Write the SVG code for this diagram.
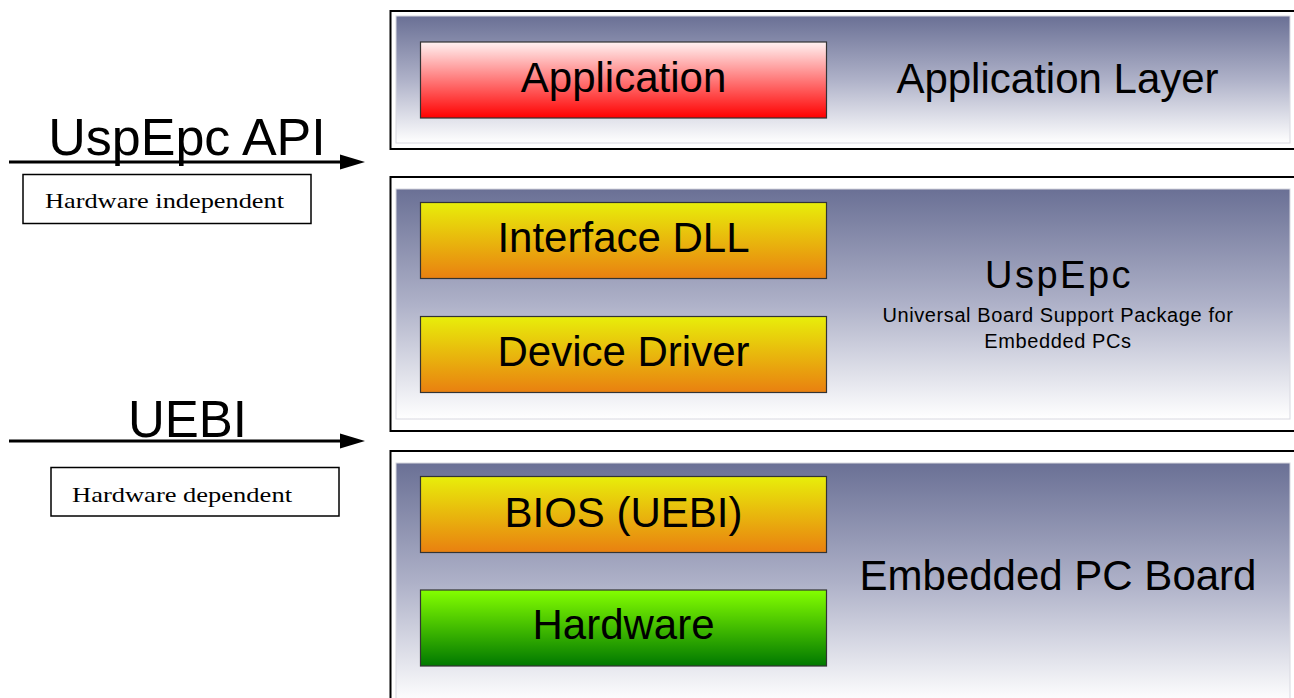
<svg xmlns="http://www.w3.org/2000/svg" width="1294" height="698" viewBox="0 0 1294 698">
<defs>
<linearGradient id="gLayer" x1="0" y1="0" x2="0" y2="1">
<stop offset="0" stop-color="#6a7095"/>
<stop offset="0.5" stop-color="#aeb1c8"/>
<stop offset="1" stop-color="#ffffff"/>
</linearGradient>
<linearGradient id="gRed" x1="0" y1="0" x2="0" y2="1">
<stop offset="0" stop-color="#fff2f2"/>
<stop offset="1" stop-color="#ff0000"/>
</linearGradient>
<linearGradient id="gOrange" x1="0" y1="0" x2="0" y2="1">
<stop offset="0" stop-color="#e8ee0a"/>
<stop offset="1" stop-color="#e98010"/>
</linearGradient>
<linearGradient id="gGreen" x1="0" y1="0" x2="0" y2="1">
<stop offset="0" stop-color="#84ff00"/>
<stop offset="1" stop-color="#007800"/>
</linearGradient>
<marker id="arr" markerWidth="8" markerHeight="6" refX="8" refY="3" orient="auto" markerUnits="strokeWidth">
<path d="M0,0 L8,3 L0,6 Z" fill="#000"/>
</marker>
</defs>
<style>
.frame{fill:#fff;stroke:#000;stroke-width:2}
.inner{fill:url(#gLayer);stroke:#d8d8e0;stroke-width:1}
.box{stroke:#333;stroke-width:1.2}
.lbl{font-family:"Liberation Sans",Arial,sans-serif;font-size:42px;fill:#000;text-anchor:middle}
.big{font-family:"Liberation Sans",Arial,sans-serif;fill:#000;text-anchor:middle}
.ser{font-family:"Liberation Serif","Times New Roman",serif;font-size:21px;fill:#000}
.note{fill:#fff;stroke:#000;stroke-width:1.5}
.conn{stroke:#000;stroke-width:3;fill:none}
</style>

<g id="layer-application">
<rect class="frame" x="390.5" y="11" width="920" height="138"/>
<rect class="inner" x="396" y="16" width="894" height="127"/>
<text class="lbl" x="1057.5" y="93">Application Layer</text>
</g>
<g id="node-application">
<rect class="box" x="420.5" y="42" width="406" height="76" fill="url(#gRed)"/>
<text class="lbl" x="623.5" y="92">Application</text>
</g>

<g id="layer-uspepc">
<rect class="frame" x="390.5" y="177" width="920" height="254"/>
<rect class="inner" x="396" y="189" width="894" height="230"/>
<text class="big" x="1059" y="288" font-size="38" letter-spacing="2.5">UspEpc</text>
<text class="big" x="1058" y="322" font-size="20" letter-spacing="0.6">Universal Board Support Package for</text>
<text class="big" x="1058" y="348" font-size="20" letter-spacing="0.6">Embedded PCs</text>
</g>
<g id="node-interface-dll">
<rect class="box" x="420.5" y="202.5" width="406" height="76" fill="url(#gOrange)"/>
<text class="lbl" x="623.5" y="252">Interface DLL</text>
</g>
<g id="node-device-driver">
<rect class="box" x="420.5" y="316.5" width="406" height="76" fill="url(#gOrange)"/>
<text class="lbl" x="623.5" y="366">Device Driver</text>
</g>

<g id="layer-board">
<rect class="frame" x="390.5" y="451" width="920" height="260"/>
<rect class="inner" x="396" y="463" width="894" height="240"/>
<text class="lbl" x="1058" y="590">Embedded PC Board</text>
</g>
<g id="node-bios">
<rect class="box" x="420.5" y="476.5" width="406" height="76" fill="url(#gOrange)"/>
<text class="lbl" x="623.5" y="527">BIOS (UEBI)</text>
</g>
<g id="node-hardware">
<rect class="box" x="420.5" y="590" width="406" height="76" fill="url(#gGreen)"/>
<text class="lbl" x="623.5" y="639">Hardware</text>
</g>

<g id="label-uspepc-api">
<text class="big" x="187" y="155" font-size="52">UspEpc API</text>
<rect class="note" x="23" y="174.5" width="288" height="49"/>
<text class="ser" x="45" y="208" textLength="239" lengthAdjust="spacingAndGlyphs">Hardware independent</text>
</g>
<g id="label-uebi">
<text class="big" x="187.5" y="437" font-size="51">UEBI</text>
<rect class="note" x="51" y="467.5" width="288" height="48.5"/>
<text class="ser" x="72" y="502" textLength="220" lengthAdjust="spacingAndGlyphs">Hardware dependent</text>
</g>

<g id="connectors">
<line class="conn" x1="9" y1="162" x2="342" y2="162"/>
<polygon points="340,154.5 365,162 340,169.5" fill="#000"/>
<line class="conn" x1="9" y1="441" x2="342" y2="441"/>
<polygon points="340,433.5 365,441 340,448.5" fill="#000"/>
</g>
</svg>
